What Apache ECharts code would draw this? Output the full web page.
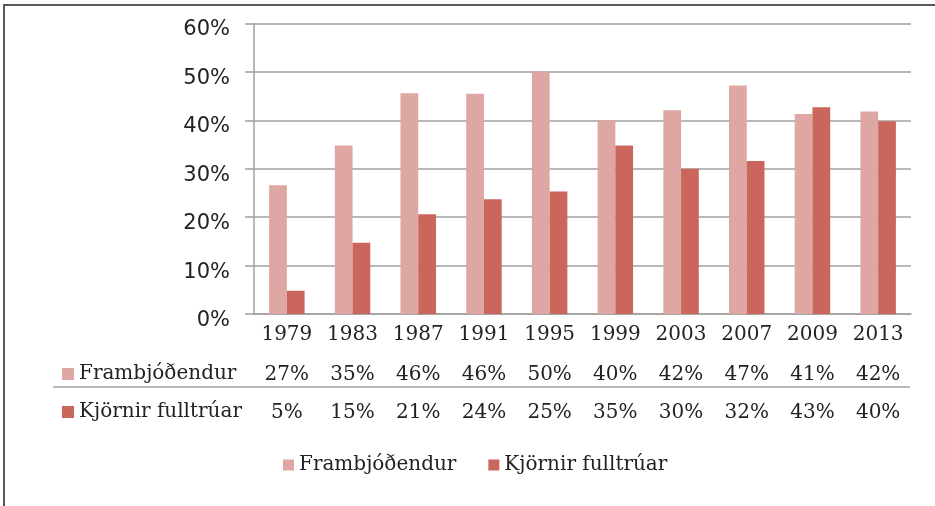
<!DOCTYPE html>
<html>
<head>
<meta charset="utf-8">
<script src="https://cdn.jsdelivr.net/npm/echarts@6/dist/echarts.min.js"></script>
<style>
  html, body { margin: 0; padding: 0; background: #fff; }
  #wrap { position: relative; width: 935px; height: 506px; overflow: hidden; }
  #m1 { width: 935px; height: 506px; }
  #frame { position: absolute; left: 3px; top: 4px; width: 960px; height: 520px;
           border-top: 2px solid #5a5a5a; border-left: 2px solid #5a5a5a; pointer-events: none; }
</style>
</head>
<body>
<div id="wrap">
  <div id="m1"></div>
  <div id="frame"></div>
</div>
<script>
// 数据
var years = ['1979', '1983', '1987', '1991', '1995', '1999', '2003', '2007', '2009', '2013'];
var frambjodendur = [26.6, 34.8, 45.6, 45.5, 50.1, 40.0, 42.1, 47.2, 41.3, 41.8];
var kjornir = [4.8, 14.7, 20.6, 23.7, 25.3, 34.8, 30.0, 31.6, 42.7, 39.8];
var seriesNames = ['Frambjóðendur', 'Kjörnir fulltrúar'];
var colors = ['#dfa7a3', '#cb665c'];

function pct(v) {
    return Math.round(v) + '%';
}

initChart();

function initChart() {
    var myChart = echarts.init(document.getElementById('m1'));
    var serif = 'DejaVu Serif';
    var txt = '#222';
    var fs = 20;

    // 表格行：用隐藏的类目轴显示数值
    function tableAxis(labels, offset) {
        return {
            type: 'category',
            data: labels,
            position: 'bottom',
            offset: offset,
            axisLine: { show: false },
            axisTick: { show: false },
            axisLabel: { color: txt, fontFamily: serif, fontSize: fs, margin: 11, interval: 0 }
        };
    }

    var option = {
        animation: false,
        color: colors,
        grid: { left: 254, right: 24, top: 23.5, bottom: 192, containLabel: false },
        legend: [
            {
                data: [seriesNames[0]], left: 62, top: 364, itemWidth: 12, itemHeight: 12,
                selectedMode: false, icon: 'rect', padding: 0,
                textStyle: { color: txt, fontFamily: serif, fontSize: fs }
            },
            {
                data: [seriesNames[1]], left: 62, top: 402, itemWidth: 12, itemHeight: 12,
                selectedMode: false, icon: 'rect', padding: 0,
                textStyle: { color: txt, fontFamily: serif, fontSize: fs }
            },
            {
                data: seriesNames, left: 283, top: 455, itemWidth: 11, itemHeight: 11, itemGap: 32,
                selectedMode: false, icon: 'rect', padding: 0,
                textStyle: { color: txt, fontFamily: serif, fontSize: fs }
            }
        ],
        xAxis: [
            {
                type: 'category',
                data: years,
                axisLine: { lineStyle: { color: '#a0a0a0', width: 1.5 } },
                axisTick: { show: false },
                axisLabel: { color: txt, fontFamily: serif, fontSize: fs, margin: 11, interval: 0 }
            },
            tableAxis(frambjodendur.map(pct), 40),
            tableAxis(kjornir.map(pct), 78)
        ],
        yAxis: {
            type: 'value',
            min: 0,
            max: 60,
            interval: 10,
            axisLine: { show: true, lineStyle: { color: '#a0a0a0', width: 1.5 } },
            axisTick: { show: true, length: 9, lineStyle: { color: '#a0a0a0', width: 1.5 } },
            splitLine: { lineStyle: { color: '#a0a0a0', width: 1.5 } },
            axisLabel: {
                formatter: '{value}%', color: txt, fontFamily: 'DejaVu Sans', fontSize: 21,
                margin: 24, verticalAlign: 'top', padding: [-4, 0, 0, 0]
            }
        },
        graphic: [
            {
                type: 'line',
                shape: { x1: 53, y1: 387, x2: 910, y2: 387 },
                style: { stroke: '#a0a0a0', lineWidth: 1.5 }
            }
        ],
        series: [
            {
                name: seriesNames[0], type: 'bar', data: frambjodendur, xAxisIndex: 0,
                barGap: 0, barCategoryGap: '46%', itemStyle: { color: colors[0] }
            },
            {
                name: seriesNames[1], type: 'bar', data: kjornir, xAxisIndex: 0,
                barGap: 0, barCategoryGap: '46%', itemStyle: { color: colors[1] }
            }
        ]
    };
    myChart.setOption(option);
}
</script>
</body>
</html>
